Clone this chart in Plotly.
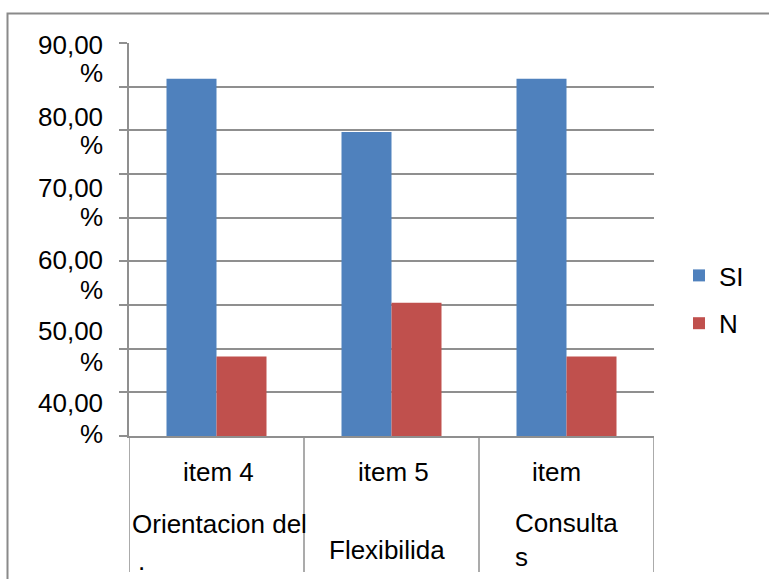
import plotly.graph_objects as go

# ---- data ----
categories = ["item 4", "item 5", "item 6"]
si_values = [81.8, 69.6, 81.8]
n_values = [18.2, 30.5, 18.2]
series_names = ["SI", "N"]
y_grid_values = [0, 10, 20, 30, 40, 50, 60, 70, 80, 90]
y_tick_labels = ["90,00", "80,00", "70,00", "60,00", "50,00", "40,00"]
cat_line1 = ["item 4", "item 5", "item"]
cat_line2 = ["Orientacion del", "Flexibilida", "Consulta<br>s"]
cat_tail = [".", "", ""]

# ---- layout helpers ----
W, H = 769, 579
L, R, T, B = 129, 115, 43, 143
PW, PH = W - L - R, H - T - B
FONT = "Liberation Sans, Arial, sans-serif"
FS = 26
GRID = "#8f8f8f"


def px(xp):
    return (xp - L) / PW


def py(yp):
    return (H - B - yp) / PH


fig = go.Figure()
fig.add_bar(x=categories, y=si_values, name=series_names[0],
            marker=dict(color="#4F81BD", line=dict(width=0)), legendgroup="a")
fig.add_bar(x=categories, y=n_values, name=series_names[1],
            marker=dict(color="#C0504D", line=dict(width=0)), legendgroup="b")

annotations = []
# y tick labels (wrapped as two lines in the original)
for i, lab in enumerate(y_tick_labels):
    annotations.append(dict(text=lab, xref="paper", yref="paper", x=px(105), y=py(45 + 71.6 * i),
                            xanchor="right", yanchor="middle", showarrow=False))
    annotations.append(dict(text="%", xref="paper", yref="paper", x=px(105), y=py(73 + 72.2 * i),
                            xanchor="right", yanchor="middle", showarrow=False))

# category labels
l1_x = [218.8, 393, 556.7]
l2_x = [219.2, 386.5, 512.5]
l2_top = [506.5, 533, 505.5]
l2_anchor = ["center", "center", "left"]
tail_x = [135.5, 0, 0]
tail_y = [561, 0, 0]
for i in range(len(categories)):
    annotations.append(dict(text=cat_line1[i], xref="paper", yref="paper", x=px(l1_x[i]), y=py(471.7),
                            xanchor="center", yanchor="middle", showarrow=False))
    annotations.append(dict(text=cat_line2[i], xref="paper", yref="paper", x=px(l2_x[i]), y=py(l2_top[i]),
                            xanchor=l2_anchor[i], yanchor="top", align="left", showarrow=False))
    if cat_tail[i]:
        annotations.append(dict(text=cat_tail[i], xref="paper", yref="paper", x=px(tail_x[i]), y=py(tail_y[i]),
                                xanchor="left", yanchor="middle", showarrow=False))

shapes = []
# category divider lines below the axis
for b in [-0.5, 0.5, 1.5, 2.5]:
    shapes.append(dict(type="line", xref="x", yref="paper", x0=b, x1=b, y0=0, y1=py(572),
                       line=dict(color=GRID, width=1.5)))
# outer chart border
shapes.append(dict(type="rect", xref="paper", yref="paper", x0=px(7.5), x1=px(820), y0=py(13.5), y1=py(640),
                   line=dict(color="#8a8a8a", width=2), fillcolor="rgba(0,0,0,0)", layer="below"))

fig.update_layout(
    width=W, height=H,
    margin=dict(l=L, r=R, t=T, b=B, pad=0),
    paper_bgcolor="white", plot_bgcolor="white",
    font=dict(family=FONT, size=FS, color="#000000"),
    barmode="group", bargap=75 / 175, bargroupgap=0,
    showlegend=True,
    legend=dict(x=px(679), xanchor="left", y=py(252), yanchor="top",
                font=dict(family=FONT, size=FS, color="#000000"),
                tracegroupgap=11, itemwidth=30, bgcolor="rgba(0,0,0,0)"),
    xaxis=dict(type="category", range=[-0.5, 2.5], showticklabels=False, ticks="",
               showgrid=False, showline=True, linecolor=GRID, linewidth=1.5, zeroline=False),
    yaxis=dict(range=[0, 90], tickmode="array", tickvals=y_grid_values, showticklabels=False,
               ticks="outside", ticklen=8, tickcolor=GRID, tickwidth=1.5,
               showgrid=True, gridcolor=GRID, gridwidth=1.5,
               showline=True, linecolor=GRID, linewidth=1.5, zeroline=False),
    annotations=annotations,
    shapes=shapes,
)

fig.write_html("out.html", config={"displayModeBar": False},
               post_script="document.body.style.margin='0px';document.body.style.overflow='hidden';")
